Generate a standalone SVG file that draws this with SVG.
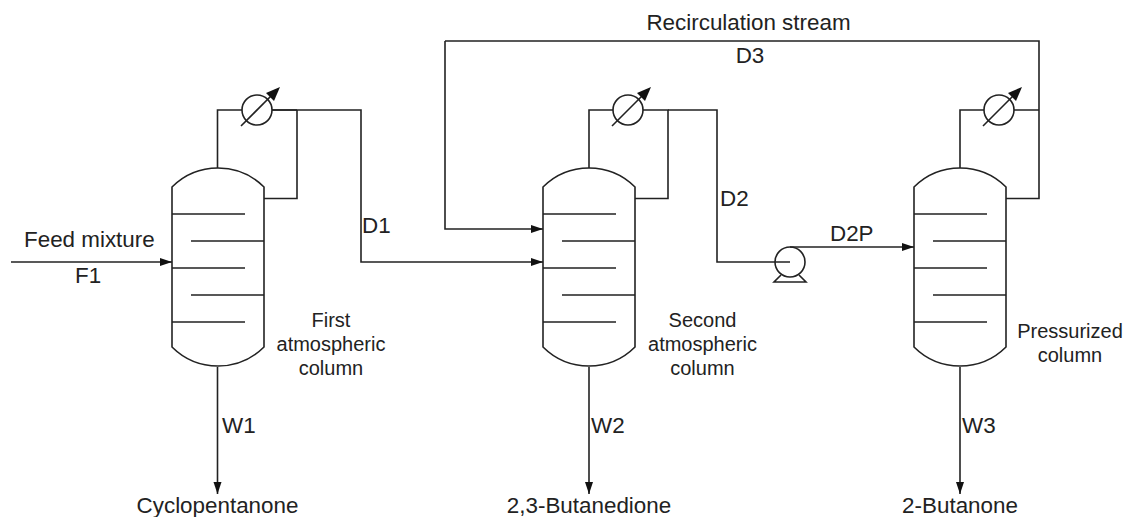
<svg xmlns="http://www.w3.org/2000/svg" width="1127" height="517" viewBox="0 0 1127 517">
<style>
.l{fill:none;stroke:#222;stroke-width:1.6}
.f{fill:#fff;stroke:#222;stroke-width:1.6}
.t{font-family:"Liberation Sans",Arial,sans-serif;font-size:22.400px;fill:#222}
.s{font-size:20px}
.m{text-anchor:middle}
</style>
<defs>
<marker id="a" markerUnits="userSpaceOnUse" markerWidth="12" markerHeight="9" refX="12" refY="4.500" orient="auto"><path d="M0 0.500L12 4.500L0 8.500Z" fill="#111"/></marker>
<g id="col">
<path class="l" d="M0 19A65.200 65.200 0 0 1 92 19V179A65.200 65.200 0 0 1 0 179Z"/>
<path class="l" d="M0 46H73M19 73H92M0 100H73M19 127H92M0 154H73"/>
</g>
<g id="cond">
<circle class="f" r="15"/>
<path class="l" d="M-16 16L16 -16"/>
<path d="M23 -23L9 -17L17 -9Z" fill="#111"/>
</g>
</defs>
<rect width="1127" height="517" fill="#fff"/>
<g id="connectors">
<path class="l" marker-end="url(#a)" d="M11 262H172"/>
<path class="l" d="M217.500 168V110H297M297 110V198.500H264"/>
<path class="l" marker-end="url(#a)" d="M272 110H361V262H543"/>
<path class="l" d="M589 168V110H668V198.500H635"/>
<path class="l" d="M668 110H717V262H790"/>
<path class="l" marker-end="url(#a)" d="M790 247H914"/>
<path class="l" d="M960 168V110H1039"/>
<path class="l" d="M1006 198.500H1039V41H445"/>
<path class="l" marker-end="url(#a)" d="M445 41V229H543"/>
<path class="l" marker-end="url(#a)" d="M217.500 367V494"/>
<path class="l" marker-end="url(#a)" d="M589 367V494"/>
<path class="l" marker-end="url(#a)" d="M960 367V494"/>
</g>
<g id="column1"><use href="#col" x="172" y="168"/></g>
<g id="column2"><use href="#col" x="543" y="168"/></g>
<g id="column3"><use href="#col" x="914" y="168"/></g>
<g id="condenser1"><use href="#cond" x="257" y="110"/></g>
<g id="condenser2"><use href="#cond" x="628" y="110"/></g>
<g id="condenser3"><use href="#cond" x="999" y="110"/></g>
<g id="pump">
<path class="l" d="M781 275L774 282H806L799 275"/>
<circle class="l" cx="790" cy="262" r="15"/>
</g>
<g id="labels">
<text class="t" x="24" y="247">Feed mixture</text>
<text class="t" x="75" y="283">F1</text>
<text class="t" x="362" y="233">D1</text>
<text class="t" x="720" y="206">D2</text>
<text class="t" x="830" y="241">D2P</text>
<text class="t m" x="748.500" y="30">Recirculation stream</text>
<text class="t m" x="750" y="63">D3</text>
<text class="t" x="222" y="433">W1</text>
<text class="t" x="591" y="433">W2</text>
<text class="t" x="962" y="433">W3</text>
<text class="t m" x="217.500" y="513">Cyclopentanone</text>
<text class="t m" x="589" y="513">2,3-Butanedione</text>
<text class="t m" x="960" y="513">2-Butanone</text>
<text class="t m s" x="331" y="327">First</text>
<text class="t m s" x="331" y="351">atmospheric</text>
<text class="t m s" x="331" y="375">column</text>
<text class="t m s" x="702.500" y="327">Second</text>
<text class="t m s" x="702.500" y="351">atmospheric</text>
<text class="t m s" x="702.500" y="375">column</text>
<text class="t m s" x="1070" y="338">Pressurized</text>
<text class="t m s" x="1070" y="362">column</text>
</g>
</svg>
